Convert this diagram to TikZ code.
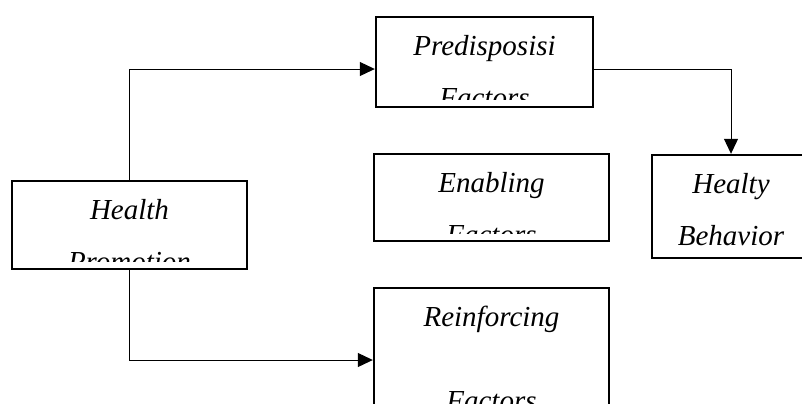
\documentclass[tikz,border=0pt]{standalone}
\usepackage{fontspec}
\setmainfont{Liberation Serif}
\usetikzlibrary{arrows.meta,fit}
\tikzstyle{link} = [line width=0.5pt, -{Triangle[length=7.5pt,width=7pt]}]
\tikzstyle{boxtext} = [font=\itshape\fontsize{14.5}{26}\selectfont, align=center, anchor=base, inner sep=0pt]
\tikzset{factorbox/.style={draw, line width=1.2pt, rectangle, inner sep=0pt,
	path picture={
		\clip ([yshift=4pt]path picture bounding box.south west) rectangle (path picture bounding box.north east);
		\node[boxtext] at ([yshift=-19pt]path picture bounding box.north) {#1};
	}}}

\begin{document}
\begin{tikzpicture}[x=0.5pt,y=-0.5pt]
	\useasboundingbox (0,0) rectangle (802,403);
	% boxes
	\node[factorbox={Health\\Promotion}, fit={(12,181) (247,269)}] (health) {};
	\node[factorbox={Predisposisi\\Factors}, fit={(376,17) (593,107)}] (pred) {};
	\node[factorbox={Enabling\\Factors}, fit={(374,154) (609,241)}] (enab) {};
	\node[factorbox={Reinforcing\\[16pt]Factors}, fit={(374,288) (609,432)}] (reinf) {};
	\node[factorbox={Healty\\Behavior}, fit={(652,155) (810,258)}] (behav) {};
	% connectors
	\draw[link] (health.north) |- ([yshift=-3.5pt]pred.west);
	\draw[link] (health.south) |- (reinf.west);
	\draw[link] ([yshift=-3.5pt]pred.east) -| (behav.north);
\end{tikzpicture}
\end{document}
